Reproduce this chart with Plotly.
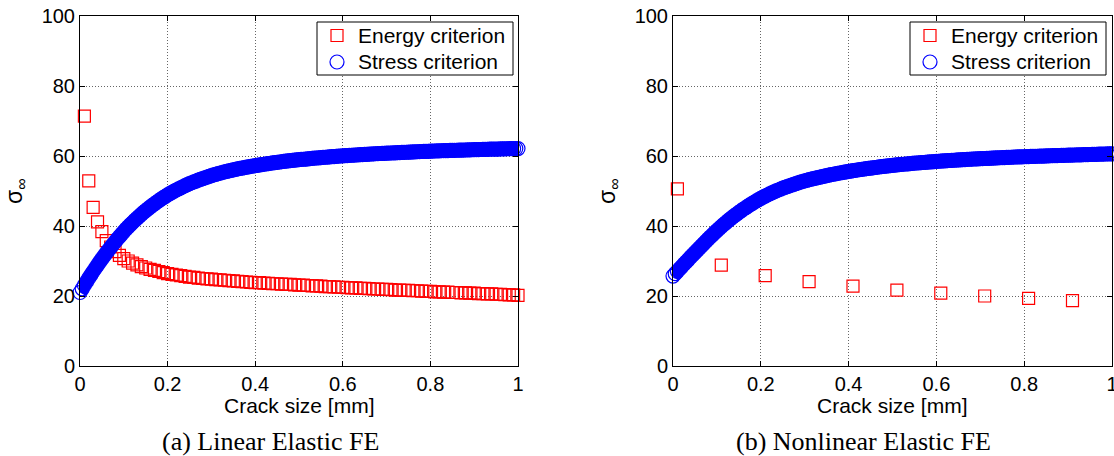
import numpy as np
import plotly.graph_objects as go

# ---------------- data ----------------
# (a) Linear elastic FE
energy_a_x = [round(0.01 * i, 2) for i in range(1, 101)]
energy_a_y = [71.4, 52.9, 45.3, 41.2, 38.4, 35.8, 34.0, 32.7, 31.6, 30.7,
              30.0, 29.4, 28.9, 28.4, 28.0, 27.6, 27.3, 27.0, 26.7, 26.4,
              26.2, 26.0, 25.8, 25.6, 25.4, 25.3, 25.1, 25.0, 24.9, 24.8,
              24.7, 24.6, 24.5, 24.4, 24.3, 24.2, 24.1, 24.0, 23.9, 23.8,
              23.8, 23.7, 23.6, 23.5, 23.5, 23.4, 23.3, 23.3, 23.2, 23.1,
              23.1, 23.0, 22.9, 22.9, 22.8, 22.7, 22.7, 22.6, 22.5, 22.5,
              22.4, 22.3, 22.3, 22.2, 22.2, 22.1, 22.0, 22.0, 21.9, 21.9,
              21.8, 21.7, 21.7, 21.6, 21.6, 21.5, 21.5, 21.4, 21.3, 21.3,
              21.2, 21.2, 21.1, 21.1, 21.0, 21.0, 20.9, 20.9, 20.8, 20.8,
              20.7, 20.7, 20.6, 20.6, 20.5, 20.5, 20.4, 20.3, 20.3, 20.2]

stress_a_x = [round(0.005 * i, 3) for i in range(0, 201)]
stress_a_y = [21.00, 22.05, 23.08, 24.09, 25.08, 26.05, 27.00, 27.93, 28.84, 29.73, 30.60,
              31.46, 32.30, 33.12, 33.92, 34.70, 35.47, 36.22, 36.96, 37.68, 38.40,
              39.08, 39.74, 40.38, 41.00, 41.60, 42.19, 42.76, 43.32, 43.87, 44.40,
              44.91, 45.40, 45.88, 46.34, 46.79, 47.23, 47.66, 48.08, 48.49, 48.90,
              49.27, 49.62, 49.96, 50.29, 50.61, 50.92, 51.22, 51.52, 51.81, 52.10,
              52.36, 52.61, 52.85, 53.09, 53.32, 53.55, 53.77, 53.99, 54.20, 54.40,
              54.59, 54.77, 54.95, 55.12, 55.29, 55.45, 55.61, 55.76, 55.91, 56.05,
              56.18, 56.31, 56.44, 56.56, 56.68, 56.80, 56.92, 57.03, 57.14, 57.25,
              57.35, 57.45, 57.55, 57.65, 57.75, 57.84, 57.93, 58.02, 58.11, 58.20,
              58.28, 58.36, 58.44, 58.52, 58.60, 58.67, 58.74, 58.81, 58.88, 58.95,
              59.01, 59.07, 59.13, 59.19, 59.25, 59.31, 59.37, 59.43, 59.49, 59.55,
              59.60, 59.65, 59.70, 59.75, 59.80, 59.85, 59.90, 59.95, 60.00, 60.05,
              60.09, 60.13, 60.17, 60.21, 60.25, 60.29, 60.33, 60.37, 60.41, 60.45,
              60.49, 60.53, 60.57, 60.61, 60.65, 60.68, 60.71, 60.74, 60.77, 60.80,
              60.83, 60.86, 60.89, 60.92, 60.95, 60.98, 61.01, 61.04, 61.07, 61.10,
              61.13, 61.16, 61.19, 61.22, 61.25, 61.28, 61.31, 61.33, 61.35, 61.37,
              61.40, 61.43, 61.46, 61.48, 61.50, 61.52, 61.54, 61.56, 61.58, 61.60,
              61.62, 61.64, 61.66, 61.68, 61.70, 61.72, 61.74, 61.76, 61.78, 61.80,
              61.82, 61.84, 61.86, 61.88, 61.90, 61.92, 61.94, 61.95, 61.96, 61.97,
              61.99, 62.01, 62.03, 62.05, 62.07, 62.08, 62.09, 62.10, 62.11, 62.12]

# (b) Nonlinear elastic FE
energy_b_x = [0.01, 0.11, 0.21, 0.31, 0.41, 0.51, 0.61, 0.71, 0.81, 0.91]
energy_b_y = [50.6, 28.8, 25.8, 24.1, 22.8, 21.7, 20.8, 20.0, 19.3, 18.7]

stress_b_x = [round(0.005 * i, 3) for i in range(0, 201)]
stress_b_y = [25.70, 26.38, 27.06, 27.74, 28.41, 29.08, 29.75, 30.42, 31.08, 31.74, 32.40,
              33.05, 33.70, 34.34, 34.98, 35.61, 36.24, 36.86, 37.48, 38.09, 38.70,
              39.28, 39.84, 40.39, 40.92, 41.44, 41.95, 42.45, 42.94, 43.42, 43.90,
              44.35, 44.79, 45.21, 45.62, 46.02, 46.41, 46.79, 47.17, 47.54, 47.90,
              48.23, 48.55, 48.86, 49.16, 49.45, 49.74, 50.02, 50.29, 50.55, 50.80,
              51.04, 51.27, 51.49, 51.71, 51.92, 52.13, 52.33, 52.53, 52.72, 52.90,
              53.07, 53.23, 53.39, 53.54, 53.69, 53.84, 53.98, 54.12, 54.26, 54.40,
              54.53, 54.66, 54.79, 54.91, 55.03, 55.15, 55.27, 55.38, 55.49, 55.60,
              55.70, 55.80, 55.90, 56.00, 56.10, 56.19, 56.28, 56.37, 56.46, 56.55,
              56.63, 56.71, 56.79, 56.87, 56.95, 57.03, 57.11, 57.19, 57.27, 57.35,
              57.41, 57.47, 57.53, 57.59, 57.65, 57.71, 57.77, 57.83, 57.89, 57.95,
              58.00, 58.05, 58.10, 58.15, 58.20, 58.25, 58.30, 58.35, 58.40, 58.45,
              58.50, 58.55, 58.59, 58.63, 58.67, 58.71, 58.75, 58.79, 58.83, 58.87,
              58.91, 58.95, 58.99, 59.03, 59.07, 59.11, 59.14, 59.17, 59.20, 59.23,
              59.26, 59.29, 59.32, 59.35, 59.38, 59.41, 59.44, 59.47, 59.50, 59.53,
              59.56, 59.59, 59.62, 59.65, 59.68, 59.71, 59.73, 59.75, 59.77, 59.79,
              59.82, 59.85, 59.87, 59.89, 59.91, 59.93, 59.95, 59.97, 59.99, 60.01,
              60.04, 60.07, 60.09, 60.11, 60.13, 60.15, 60.17, 60.19, 60.21, 60.23,
              60.25, 60.27, 60.29, 60.31, 60.33, 60.35, 60.37, 60.39, 60.41, 60.43,
              60.45, 60.47, 60.49, 60.51, 60.53, 60.55, 60.57, 60.59, 60.61, 60.63]

x_ticks = [0, 0.2, 0.4, 0.6, 0.8, 1]
x_tick_labels = ["0", "0.2", "0.4", "0.6", "0.8", "1"]
y_ticks = [0, 20, 40, 60, 80, 100]
y_tick_labels = ["0", "20", "40", "60", "80", "100"]

series_names = ["Energy criterion", "Stress criterion"]
x_title = "Crack size [mm]"
y_title = "σ<sub>∞</sub>"
captions = ["(a) Linear Elastic FE", "(b) Nonlinear Elastic FE"]

# ---------------- figure ----------------
W, H = 1114, 456
SANS = "Liberation Sans, Arial, Helvetica, sans-serif"
SERIF = "Liberation Serif, Times New Roman, serif"
RED = "#ff0000"
BLUE = "#0000ff"

fig = go.Figure()

def add_panel(ex, ey, sx, sy, xa, ya):
    fig.add_trace(go.Scatter(
        x=ex, y=ey, mode="markers", name=series_names[0], showlegend=False,
        xaxis=xa, yaxis=ya, cliponaxis=False,
        marker=dict(symbol="square-open", size=12, color=RED, line=dict(width=1.2, color=RED)),
    ))
    # dense overlapping circles form a solid band: draw the band body from the same data
    fig.add_trace(go.Scatter(
        x=sx, y=sy, mode="lines", showlegend=False, hoverinfo="skip",
        xaxis=xa, yaxis=ya, cliponaxis=False,
        line=dict(color=BLUE, width=13, simplify=False),
    ))
    fig.add_trace(go.Scatter(
        x=sx, y=sy, mode="markers", name=series_names[1], showlegend=False,
        xaxis=xa, yaxis=ya, cliponaxis=False,
        marker=dict(symbol="circle-open", size=14, color=BLUE, line=dict(width=1.2, color=BLUE)),
    ))

add_panel(energy_a_x, energy_a_y, stress_a_x, stress_a_y, "x", "y")
add_panel(energy_b_x, energy_b_y, stress_b_x, stress_b_y, "x2", "y2")

def px_x(p):
    return p / W

def px_y(p):
    return 1 - p / H

axis_common = dict(
    showline=True, linecolor="black", linewidth=1, mirror="ticks",
    ticks="inside", ticklen=5, tickcolor="black", tickwidth=1,
    showgrid=True, gridcolor="rgba(0,0,0,0.6)", gridwidth=1, griddash="1px,2px",
    zeroline=False, tickfont=dict(family=SANS, size=20, color="black"),
    automargin=False, ticklabeloverflow="allow",
)

left_dom = [px_x(80), px_x(518)]
right_dom = [px_x(673), px_x(1112)]
y_dom = [px_y(366), px_y(16)]

fig.update_layout(
    width=W, height=H,
    margin=dict(l=0, r=0, t=0, b=0, autoexpand=False),
    paper_bgcolor="white", plot_bgcolor="white",
    font=dict(family=SANS, color="black"),
    xaxis=dict(domain=left_dom, anchor="y", range=[0, 1], tickvals=x_ticks, ticktext=x_tick_labels, **axis_common),
    yaxis=dict(domain=y_dom, anchor="x", range=[0, 100], tickvals=y_ticks, ticktext=y_tick_labels, **axis_common),
    xaxis2=dict(domain=right_dom, anchor="y2", range=[0, 1], tickvals=x_ticks, ticktext=x_tick_labels, **axis_common),
    yaxis2=dict(domain=y_dom, anchor="x2", range=[0, 100], tickvals=y_ticks, ticktext=y_tick_labels, **axis_common),
    showlegend=False,
)

annots = []
shapes = []
for cx in (299, 892.5):
    annots.append(dict(text=x_title, x=px_x(cx), y=px_y(405), xref="paper", yref="paper",
                       xanchor="center", yanchor="middle", showarrow=False,
                       font=dict(family=SANS, size=21, color="black")))
for cx in (15, 608):
    annots.append(dict(text=y_title, x=px_x(cx), y=px_y(191), xref="paper", yref="paper",
                       xanchor="center", yanchor="middle", showarrow=False, textangle=-90,
                       font=dict(family=SANS, size=23, color="black")))
for cx, cap in zip((270, 864), captions):
    annots.append(dict(text=cap, x=px_x(cx), y=px_y(441), xref="paper", yref="paper",
                       xanchor="center", yanchor="middle", showarrow=False,
                       font=dict(family=SERIF, size=26, color="black")))

# legend boxes (one per panel), drawn in page pixels
for left in (317, 910):
    right = left + 196
    shapes.append(dict(type="rect", xref="paper", yref="paper",
                       x0=px_x(left), x1=px_x(right), y0=px_y(75), y1=px_y(22),
                       line=dict(color="black", width=1), fillcolor="white", layer="above"))
    sx, r1, r2 = left + 20, 35.5, 62
    shapes.append(dict(type="rect", xref="paper", yref="paper",
                       x0=px_x(sx - 6), x1=px_x(sx + 6), y0=px_y(r1 + 6), y1=px_y(r1 - 6),
                       line=dict(color=RED, width=1.2), fillcolor="rgba(0,0,0,0)", layer="above"))
    shapes.append(dict(type="circle", xref="paper", yref="paper",
                       x0=px_x(sx - 7), x1=px_x(sx + 7), y0=px_y(r2 + 7), y1=px_y(r2 - 7),
                       line=dict(color=BLUE, width=1.2), fillcolor="rgba(0,0,0,0)", layer="above"))
    for name, ry in zip(series_names, (r1, r2)):
        annots.append(dict(text=name, x=px_x(left + 39), y=px_y(ry), xref="paper", yref="paper",
                           xanchor="left", yanchor="middle", showarrow=False,
                           font=dict(family=SANS, size=21, color="black")))

fig.update_layout(annotations=annots, shapes=shapes)

fig.write_html("out.html", config={"displayModeBar": False},
               post_script="document.body.style.margin='0px';document.body.style.overflow='hidden';")
